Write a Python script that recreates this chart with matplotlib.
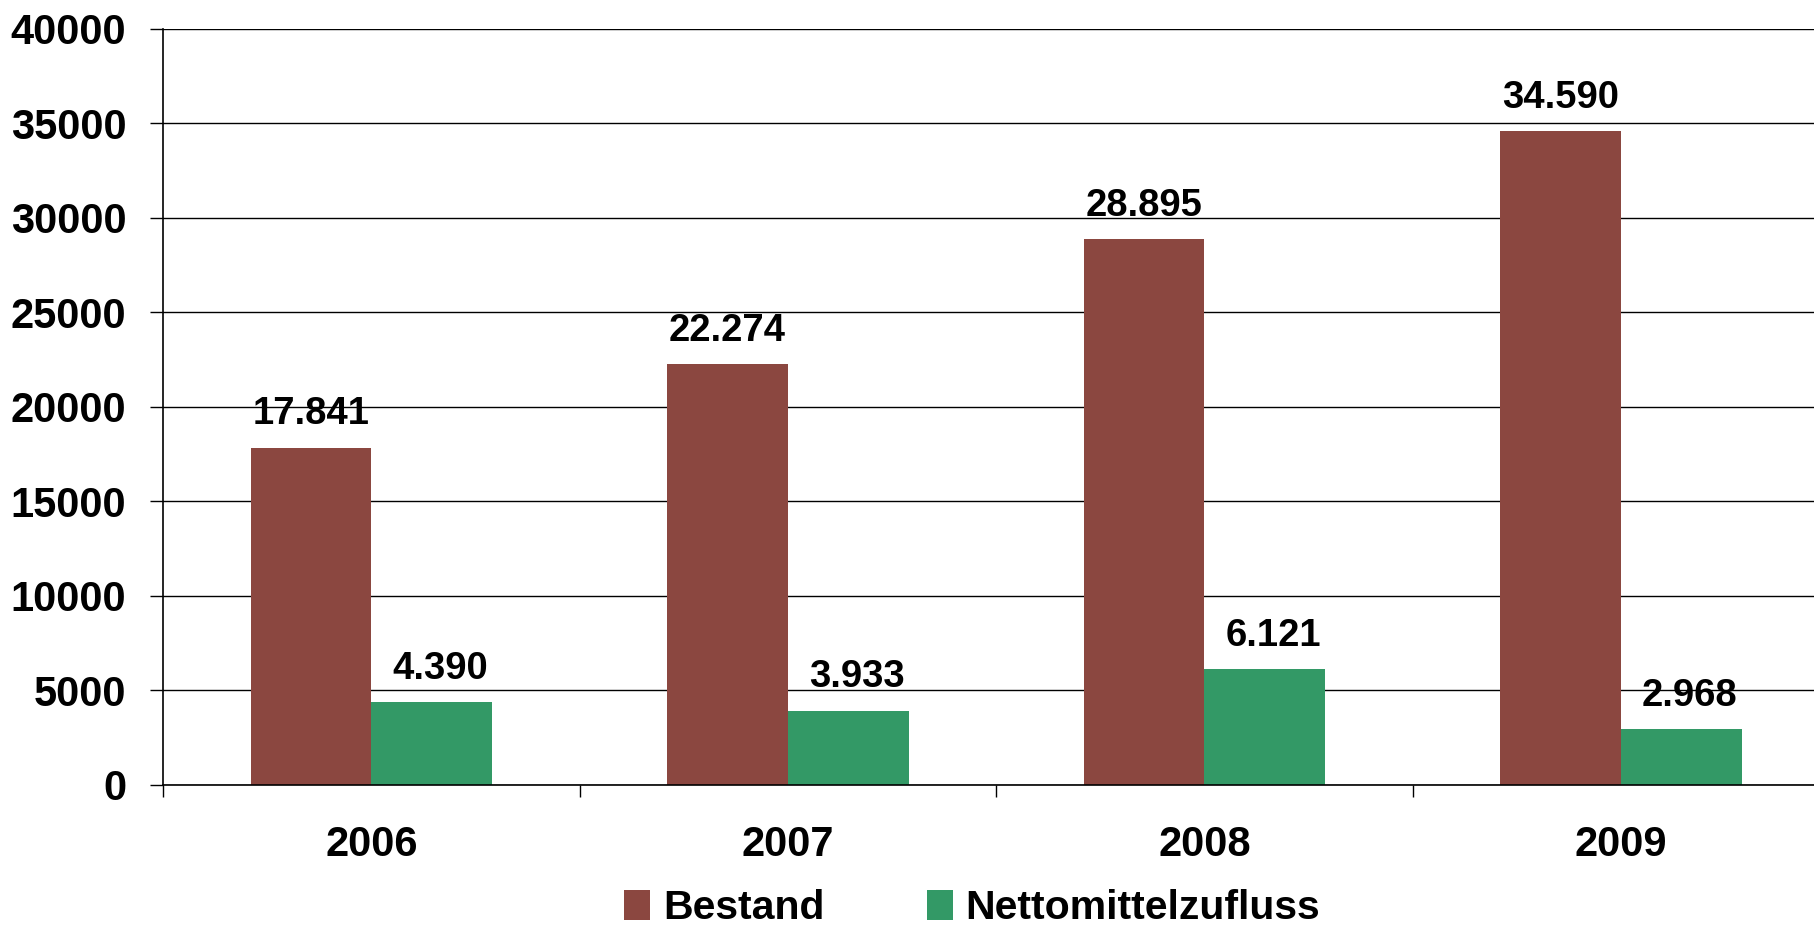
import numpy as np
import matplotlib
matplotlib.use('Agg')
import matplotlib.pyplot as plt

years = ['2006', '2007', '2008', '2009']
bestand = [17841, 22274, 28895, 34590]
zufluss = [4390, 3933, 6121, 2968]
series_names = ['Bestand', 'Nettomittelzufluss']
colors = ['#8B4740', '#339966']

plt.rcParams['font.family'] = ['Liberation Sans', 'DejaVu Sans']
plt.rcParams['font.weight'] = 'bold'

fig = plt.figure(figsize=(18.14, 9.26), dpi=100)
ax = fig.add_axes([0.0899, 0.1523, 0.9184, 0.8164])

x = np.arange(len(years))
w = 0.29
b1 = ax.bar(x - w / 2, bestand, w, color=colors[0], label=series_names[0], zorder=3)
b2 = ax.bar(x + w / 2, zufluss, w, color=colors[1], label=series_names[1], zorder=3)

def fmt(v):
    # German thousands separator
    return '{:,}'.format(v).replace(',', '.')

for bars, vals, dx in ((b1, bestand, 0), (b2, zufluss, 6)):
    for r, v in zip(bars, vals):
        ax.annotate(fmt(v), (r.get_x() + r.get_width() / 2, v),
                    xytext=(dx, 24), textcoords='offset points',
                    ha='center', va='center', fontsize=27.5, fontweight='bold', zorder=4)

ax.set_xlim(-0.5, 3.5)
ax.set_ylim(0, 40000)
ax.set_yticks(np.arange(0, 40001, 5000))
ax.yaxis.grid(True, color='black', linewidth=1.0, zorder=0)
ax.tick_params(axis='y', length=9.5, width=1.0, pad=17, labelsize=30)

ax.set_xticks(np.arange(-0.5, 3.0, 1.0))
ax.set_xticklabels([])
ax.set_xticks(x, minor=True)
ax.set_xticklabels(years, minor=True, fontsize=30, fontweight='bold')
ax.tick_params(axis='x', which='major', length=8.5, width=1.0)
ax.tick_params(axis='x', which='minor', length=0, pad=29)

for s in ['top', 'right']:
    ax.spines[s].set_visible(False)
for s in ['left', 'bottom']:
    ax.spines[s].set_linewidth(1.2)
    ax.spines[s].set_zorder(5)
ax.set_axisbelow(True)

fig.legend(loc='center', bbox_to_anchor=(972 / 1814, 18 / 926), ncol=2, frameon=False,
           fontsize=29.5, handlelength=0.65, handleheight=0.75, handletextpad=0.3,
           columnspacing=2.5, borderpad=0)

fig.savefig('out.png', dpi=100)
